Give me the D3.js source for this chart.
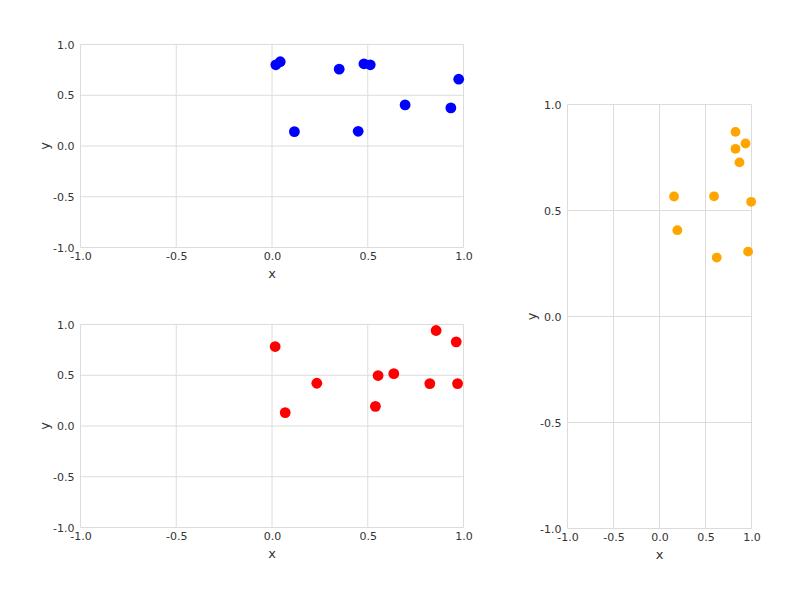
<!DOCTYPE html>
<html>
<head>
<meta charset="utf-8">
<script src="https://cdn.jsdelivr.net/npm/d3@7"></script>
<style>
  body { margin: 0; background: #fff; }
  text { font-family: "DejaVu Sans", sans-serif; }
</style>
</head>
<body>
<div id="canvas"></div>
<script>
"use strict"

// tick values shared by every panel
let tickValues = [-1, -0.5, 0, 0.5, 1];

// blue panel (top left)
let blueX = [0.02, 0.043, 0.351, 0.117, 0.48, 0.513, 0.45, 0.695, 0.934, 0.975];
let blueY = [0.80, 0.83, 0.757, 0.141, 0.81, 0.80, 0.145, 0.405, 0.375, 0.658];

// red panel (bottom left)
let redX = [0.0165, 0.069, 0.234, 0.554, 0.636, 0.540, 0.857, 0.962, 0.824, 0.969];
let redY = [0.783, 0.132, 0.421, 0.497, 0.516, 0.194, 0.941, 0.829, 0.418, 0.418];

// orange panel (right)
let orangeX = [0.826, 0.935, 0.826, 0.869, 0.158, 0.593, 0.996, 0.194, 0.622, 0.963];
let orangeY = [0.871, 0.816, 0.791, 0.727, 0.566, 0.567, 0.541, 0.407, 0.278, 0.306];

let drawing = d3.select("#canvas")
    .append("svg")
    .attr("width", 800)
    .attr("height", 600);

function drawPanel(left, top, width, height, xs, ys, color, r) {
    let x = d3.scaleLinear().domain([-1, 1]).range([left, left + width]);
    let y = d3.scaleLinear().domain([-1, 1]).range([top + height, top]);

    // grid lines
    drawing.append("g")
        .selectAll("line.vx")
        .data(tickValues)
        .join("line")
        .attr("x1", d => x(d)).attr("x2", d => x(d))
        .attr("y1", top).attr("y2", top + height)
        .attr("stroke", "#dcdcdc")
        .attr("stroke-width", 1);

    drawing.append("g")
        .selectAll("line.hy")
        .data(tickValues)
        .join("line")
        .attr("x1", left).attr("x2", left + width)
        .attr("y1", d => y(d)).attr("y2", d => y(d))
        .attr("stroke", "#dcdcdc")
        .attr("stroke-width", 1);

    // axes, labels only
    let xAxis = drawing.append("g")
        .attr("transform", "translate(0," + (top + height) + ")")
        .call(d3.axisBottom(x).tickValues(tickValues).tickSize(0).tickPadding(5).tickFormat(d => d.toFixed(1)));
    let yAxis = drawing.append("g")
        .attr("transform", "translate(" + left + ",0)")
        .call(d3.axisLeft(y).tickValues(tickValues).tickSize(0).tickPadding(6).tickFormat(d => d.toFixed(1)));
    [xAxis, yAxis].forEach(a => {
        a.select(".domain").remove();
        a.selectAll("text")
            .attr("fill", "#333")
            .style("font-size", "11px")
            .style("font-family", "DejaVu Sans, sans-serif");
    });

    drawing.append("text")
        .attr("x", left + width / 2)
        .attr("y", top + height + 30)
        .attr("text-anchor", "middle")
        .attr("fill", "#333")
        .style("font-size", "13px")
        .text("x");

    drawing.append("text")
        .attr("transform", "translate(" + (left - 32) + "," + (top + height / 2) + ") rotate(-90)")
        .attr("text-anchor", "middle")
        .attr("fill", "#333")
        .style("font-size", "13px")
        .text("y");

    // points
    drawing.append("g")
        .selectAll("circle")
        .data(xs.map((v, i) => [v, ys[i]]))
        .join("circle")
        .attr("cx", d => x(d[0]))
        .attr("cy", d => y(d[1]))
        .attr("r", r)
        .attr("fill", color);
}

drawPanel(80.5, 44.5, 383, 203, blueX, blueY, "#0000ff", 5.4);
drawPanel(80.5, 324.5, 383, 203, redX, redY, "#ff0000", 5.4);
drawPanel(567.5, 104.5, 184, 424, orangeX, orangeY, "#ffa500", 4.9);
</script>
</body>
</html>
